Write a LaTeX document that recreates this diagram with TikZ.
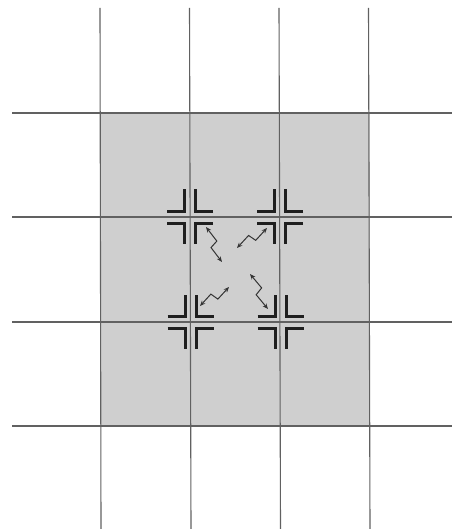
\documentclass[tikz,border=0pt]{standalone}
\usetikzlibrary{arrows.meta,calc}
\begin{document}
\begin{tikzpicture}[x=1pt,y=-1pt,
  gridline/.style={draw=black!62,line width=1.1pt},
  bracket/.style={draw=black!88,line width=3pt,line cap=butt,line join=miter},
  zap/.style={draw=black!80,line width=1pt,line join=miter,{Stealth[length=5.5pt,width=4.5pt]}-{Stealth[length=5.5pt,width=4.5pt]}},
  marks/.pic={
    \draw[bracket] (-23,-5.5) -- (-5.5,-5.5) -- (-5.5,-27.5);
    \draw[bracket] (23,-5.5) -- (5.5,-5.5) -- (5.5,-27.5);
    \draw[bracket] (-23,6) -- (-5.5,6) -- (-5.5,27);
    \draw[bracket] (23,6) -- (5.5,6) -- (5.5,27);
  }]
\useasboundingbox (0,0) rectangle (452,529);
\fill[black!19] (100,113) rectangle (369.5,426);
% grid
\foreach \xt/\xb in {100/101,189.5/191,279/280.5,368.5/370}
  \draw[gridline] (\xt,8) -- (\xb,529);
\foreach \y in {113,217,322,426}
  \draw[gridline] (12,\y) -- (452,\y);
% intersections
\coordinate (i1) at (190,217);
\coordinate (i2) at (280,217);
\coordinate (i3) at (190.5,322);
\coordinate (i4) at (280.5,322);
\foreach \c in {i1,i2,i3,i4} \pic at (\c) {marks};
% zigzag arrow end points
\coordinate (a1) at (206,227);
\coordinate (b1) at (222,262);
\coordinate (a2) at (267,228);
\coordinate (b2) at (237,248);
\coordinate (a3) at (200,306);
\coordinate (b3) at (229,287);
\coordinate (a4) at (250,274);
\coordinate (b4) at (268,309);
\foreach \a/\b in {a1/b1,a2/b2,a3/b3,a4/b4}
  \draw[zap] (\a) -- ($(\a)!0.45!(\b)!4pt!90:(\b)$)
               -- ($(\a)!0.54!(\b)!4pt!-90:(\b)$) -- (\b);
\end{tikzpicture}
\end{document}
